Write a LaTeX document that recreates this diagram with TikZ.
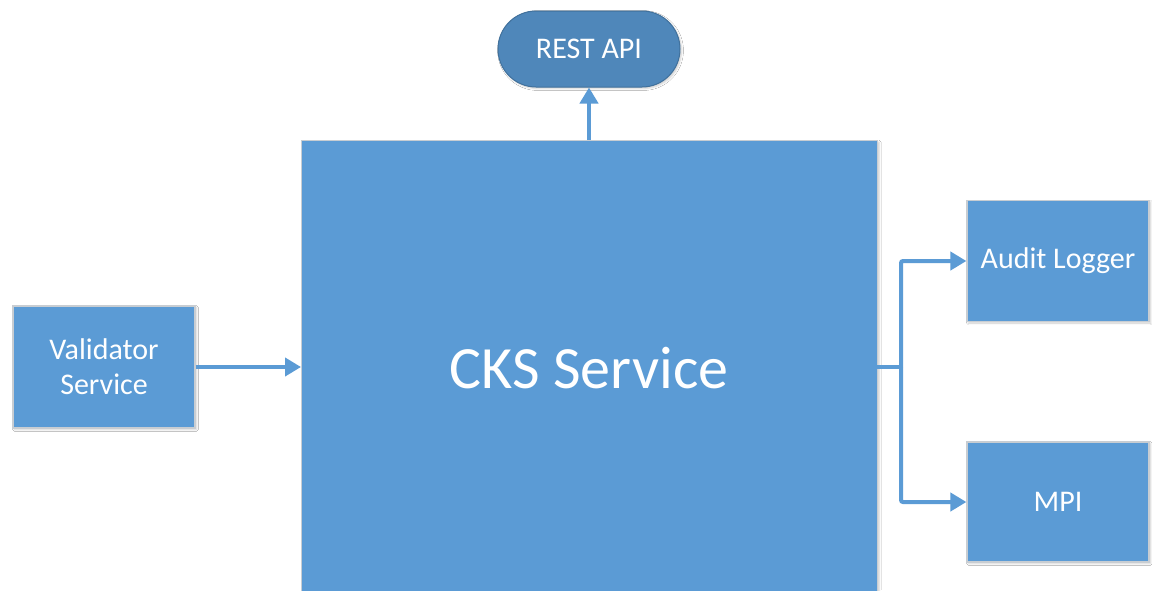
\documentclass[tikz,border=0pt]{standalone}
\usepackage{fontspec}
\setmainfont{Carlito}
\usetikzlibrary{arrows.meta,shadows.blur}
\definecolor{boxblue}{HTML}{5B9BD5}
\definecolor{apiblue}{HTML}{4F87BA}
\definecolor{apiedge}{HTML}{41719C}
\definecolor{edgegray}{HTML}{C8CDD2}
\tikzset{
  block/.style={draw=edgegray, line width=1.2pt, fill=boxblue, text=white,
    font=\fontsize{30}{35}\selectfont, align=center, inner sep=0pt,
    blur shadow={shadow xshift=1.5pt, shadow yshift=-1.5pt, shadow blur steps=4, shadow opacity=20}},
  capsule/.style={draw=apiedge, line width=1pt, fill=apiblue, text=white,
    font=\fontsize{30}{35}\selectfont, rounded corners=38pt, inner sep=0pt,
    blur shadow={shadow xshift=1.5pt, shadow yshift=-1.5pt, shadow blur steps=4, shadow opacity=20}},
  link/.style={draw=boxblue, line width=4pt,
    -{Triangle[length=16pt,width=18pt]}},
}
\begin{document}
\begin{tikzpicture}[x=1pt,y=-1pt]
\useasboundingbox (0,0) rectangle (1152,590);
\fill[white] (0,0) rectangle (1152,590);
\begin{scope}
\clip (0,0) rectangle (1152,590);
% main service box, running past the lower edge
\node[block, minimum width=576pt, minimum height=470pt, anchor=north west] (cks) at (301,140) {};
\node[text=white, font=\fontsize{60}{64}\selectfont] (ckslabel) at (589,368) {CKS Service};
\end{scope}

\node[capsule, minimum width=182pt, minimum height=76pt] (api) at (589,49) {REST API};
\node[block, minimum width=182pt, minimum height=122pt] (val) at (104,367) {Validator\\Service};
\node[block, minimum width=182pt, minimum height=121pt] (audit) at (1058,261) {Audit Logger};
\node[block, minimum width=182pt, minimum height=120pt] (mpi) at (1058,502) {MPI};

% connectors
\coordinate (ckstop) at (589,140);
\draw[link] (ckstop) -- (api.south);
\draw[link] (val.east) -- (val.east -| cks.west);
\coordinate (cksout) at (877,367);
\coordinate (split) at (901,367);
\draw[draw=boxblue, line width=4pt] (cksout) -- (split);
\draw[link, rounded corners=2pt] (split) |- (audit.west);
\draw[link, rounded corners=2pt] (split) |- (mpi.west);
\end{tikzpicture}
\end{document}
